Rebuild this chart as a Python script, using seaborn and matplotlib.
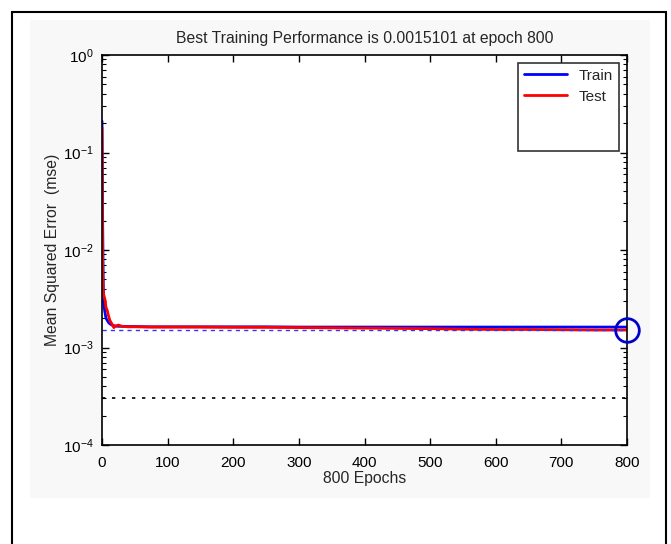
import matplotlib
matplotlib.use("Agg")
import matplotlib.pyplot as plt
import matplotlib.ticker as mticker
from matplotlib.patches import Rectangle
from matplotlib.lines import Line2D
import seaborn as sns
import pandas as pd

# ---- data ----
epochs = [0, 1, 2, 3, 4, 5, 6, 8, 10, 12, 15, 18, 20, 25, 30, 40, 50, 75, 100, 150,
          200, 250, 300, 350, 400, 450, 500, 550, 600, 650, 700, 750, 800]
train_mse = [0.21, 0.02, 0.004, 0.0028, 0.0024, 0.0022, 0.0020, 0.0019, 0.0018, 0.00175, 0.0017,
             0.00168, 0.00166, 0.00165, 0.00165, 0.00164, 0.00164, 0.00163, 0.00163, 0.00163,
             0.00163, 0.00163, 0.00162, 0.00162, 0.00162, 0.00162, 0.00162, 0.00162, 0.00162,
             0.00162, 0.00162, 0.00162, 0.00162]
test_mse = [0.18, 0.006, 0.0036, 0.0034, 0.0032, 0.0030, 0.0026, 0.0024, 0.0021, 0.0019, 0.00175,
            0.0016, 0.00165, 0.0017, 0.00165, 0.00163, 0.00163, 0.00162, 0.00162, 0.00162,
            0.00161, 0.00161, 0.0016, 0.00159, 0.00158, 0.00157, 0.00156, 0.00154, 0.00153,
            0.00153, 0.00152, 0.00151, 0.00151]
best_value = 0.0015101
best_epoch = 800
goal = 3e-4
series_names = ["Train", "Test"]
series_colors = ["#0000ff", "#ff0000"]

df = pd.DataFrame({
    "epoch": epochs * 2,
    "mse": train_mse + test_mse,
    "set": [series_names[0]] * len(epochs) + [series_names[1]] * len(epochs),
})

sns.set_theme(style="ticks")
plt.rcParams["font.family"] = ["Liberation Sans", "DejaVu Sans"]
plt.rcParams["mathtext.fontset"] = "custom"
plt.rcParams["mathtext.rm"] = "Liberation Sans"
plt.rcParams["mathtext.default"] = "regular"
plt.rcParams["axes.unicode_minus"] = False

fig = plt.figure(figsize=(6.71, 5.44), dpi=100)
fig.patch.set_facecolor("white")

# outer frame and light background
fig.add_artist(Rectangle((30 / 671, 1 - 498 / 544), 620 / 671, 478 / 544, transform=fig.transFigure,
                         facecolor="#f8f8f8", edgecolor="none", zorder=-2))
fig.add_artist(Rectangle((12 / 671, -0.01), 654 / 671, 1 - 12 / 544 + 0.01, transform=fig.transFigure,
                         facecolor="none", edgecolor="black", linewidth=1.5, zorder=-1))

ax = fig.add_axes([102 / 671, 1 - 445 / 544, (627 - 102) / 671, (445 - 55) / 544])
ax.set_facecolor("white")

sns.lineplot(data=df, x="epoch", y="mse", hue="set", palette=series_colors,
             linewidth=2, ax=ax, legend=False)

ax.axhline(best_value, color="#3333ff", linestyle=(0, (3, 3)), linewidth=1)
ax.axhline(goal, color="black", linestyle=(0, (2, 4)), linewidth=1.2)
ax.plot([best_epoch], [best_value], marker="o", markersize=17, markerfacecolor="none",
        markeredgecolor="#0000cc", markeredgewidth=2, clip_on=False, zorder=5)

ax.set_yscale("log")
ax.set_xlim(0, 800)
ax.set_ylim(1e-4, 1)
ax.set_xticks(range(0, 801, 100))
ax.yaxis.set_major_locator(mticker.LogLocator(base=10, numticks=10))
ax.yaxis.set_minor_locator(mticker.LogLocator(base=10, subs=range(2, 10), numticks=10))
ax.yaxis.set_minor_formatter(mticker.NullFormatter())
ax.tick_params(axis="both", which="both", direction="in", top=True, right=True,
               labelsize=11, colors="black")
ax.tick_params(axis="x", which="major", pad=8)
ax.tick_params(axis="y", which="major", pad=6)
ax.tick_params(which="major", length=5, width=1)
ax.tick_params(which="minor", length=3, width=0.8)
for s in ax.spines.values():
    s.set_visible(True)
    s.set_color("black")
    s.set_linewidth(1.2)

ax.set_title("Best Training Performance is 0.0015101 at epoch 800", fontsize=11.3, pad=9)
ax.set_xlabel("800 Epochs", fontsize=11.3, labelpad=1)
ax.set_ylabel("Mean Squared Error  (mse)", fontsize=11.3, labelpad=2)

handles = [Line2D([], [], color=series_colors[0], linewidth=2),
           Line2D([], [], color=series_colors[1], linewidth=2),
           Line2D([], [], color="none"),
           Line2D([], [], color="none")]
leg = ax.legend(handles, series_names + [" ", " "], loc="upper right", fontsize=11,
                frameon=True, fancybox=False, edgecolor="black", handlelength=2.8,
                borderaxespad=0.5, labelspacing=0.45)
leg.get_frame().set_linewidth(1.2)

fig.savefig("out.png", dpi=100)
